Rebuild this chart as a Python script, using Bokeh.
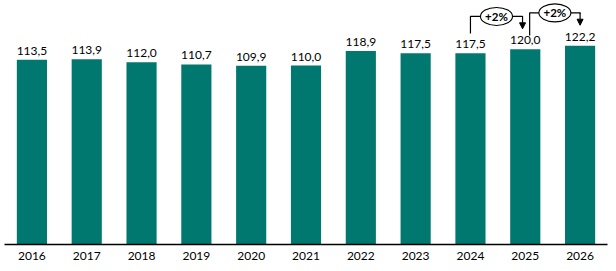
from bokeh.plotting import figure
from bokeh.models import ColumnDataSource, LabelSet, Arrow, NormalHead, FixedTicker, Range1d
from bokeh.core.properties import value
from bokeh.embed import file_html
from bokeh.resources import INLINE

years = ["2016", "2017", "2018", "2019", "2020", "2021", "2022", "2023", "2024", "2025", "2026"]
values = [113.5, 113.9, 112.0, 110.7, 109.9, 110.0, 118.9, 117.5, 117.5, 120.0, 122.2]
labels = [f"{v:.1f}".replace(".", ",") for v in values]
growth_pairs = [("2024", "2025"), ("2025", "2026")]
growth_labels = ["+2%", "+2%"]

FONT = "Lato"
BAR = "#00786F"

xs = list(range(len(years)))
src = ColumnDataSource(dict(x=xs, top=values, label=labels))

p = figure(width=616, height=271, output_backend="svg", toolbar_location=None,
           x_range=Range1d(-0.5, len(years) - 0.5), y_range=Range1d(0, 150),
           y_axis_location=None, min_border_left=4, min_border_right=9,
           min_border_top=0, min_border_bottom=27)
p.outline_line_color = None
p.grid.visible = False
p.background_fill_color = "white"

p.vbar(x="x", top="top", width=0.55, source=src, fill_color=BAR, line_color=None)

p.add_layout(LabelSet(x="x", y="top", text="label", source=src, text_align="center",
                      text_baseline="alphabetic", y_offset=5, text_font=value(FONT),
                      text_font_size="12px", text_color="#000000"))

ax = p.xaxis[0]
ax.ticker = FixedTicker(ticks=xs)
ax.major_label_overrides = {i: y for i, y in enumerate(years)}
ax.major_tick_line_color = None
ax.minor_tick_line_color = None
ax.major_tick_out = 0
ax.major_tick_in = 0
ax.axis_line_color = "#000000"
ax.axis_line_width = 1.3
ax.major_label_standoff = 7
ax.major_label_text_font = FONT
ax.major_label_text_font_size = "12px"
ax.major_label_text_color = "#000000"

# growth brackets
for k, ((a, b), g) in enumerate(zip(growth_pairs, growth_labels)):
    i, j = years.index(a), years.index(b)
    x0 = i + (0.0 if k == 0 else 0.08)
    x1 = j - (0.05 if k == 0 else 0.0)
    y0 = values[i] + (12.2 if k == 0 else 8.5)
    ytop = values[j] + 20.2
    ytip = values[j] + 12.6
    xm = (x0 + x1) / 2
    p.line([x0, x0, x1, x1], [y0, ytop, ytop, ytop - 0.5], line_color="#000000", line_width=1.2)
    p.add_layout(Arrow(x_start=x1, y_start=ytop, x_end=x1, y_end=ytip,
                       line_color="#000000", line_width=1.2,
                       end=NormalHead(size=6, fill_color="#000000", line_color="#000000")))
    p.ellipse(x=[xm], y=[ytop], width=32, height=18, width_units="screen", height_units="screen",
              fill_color="white", line_color="#000000", line_width=1.1)
    p.text(x=[xm], y=[ytop], text=[g], text_align="center", text_baseline="middle",
           text_font=value(FONT), text_font_size="11.5px", text_font_style="bold",
           text_color="#000000")

open("out.html", "w").write(file_html(p, INLINE))
